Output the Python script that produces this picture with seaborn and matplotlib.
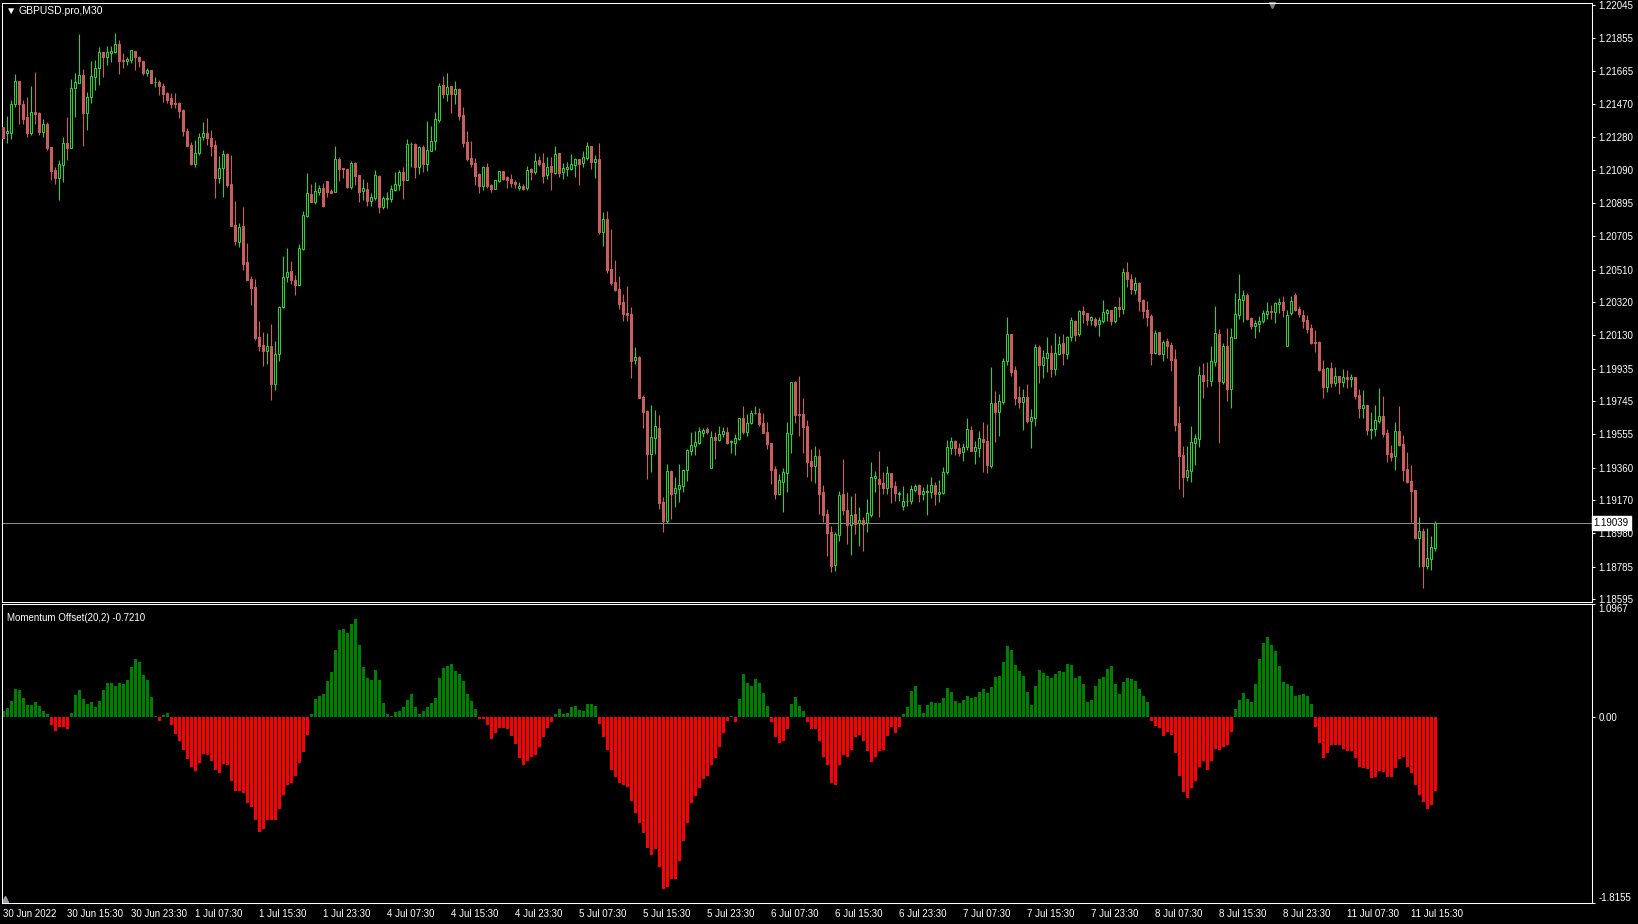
import numpy as np
import pandas as pd
import seaborn as sns
import matplotlib.pyplot as plt

symbol = "GBPUSD.pro,M30"
indicator = "Momentum Offset(20,2)"

# M30 candles, 30 Jun 07:30 .. 11 Jul 16:30
opens = [
    1.21336, 1.21305, 1.21305, 1.21469, 1.21605, 1.21469, 1.21398, 1.21301, 1.21423, 1.21417,
    1.21308, 1.21353, 1.21221, 1.21088, 1.21039, 1.21119, 1.21243, 1.21217, 1.21566, 1.21595,
    1.21640, 1.21421, 1.21510, 1.21630, 1.21678, 1.21775, 1.21746, 1.21769, 1.21773, 1.21819,
    1.21725, 1.21723, 1.21727, 1.21779, 1.21742, 1.21721, 1.21653, 1.21669, 1.21599, 1.21601,
    1.21576, 1.21533, 1.21508, 1.21475, 1.21475, 1.21436, 1.21316, 1.21233, 1.21123, 1.21188,
    1.21277, 1.21301, 1.21272, 1.21233, 1.21043, 1.21097, 1.21181, 1.21006, 1.20768, 1.20672,
    1.20763, 1.20556, 1.20455, 1.20409, 1.20118, 1.20072, 1.20037, 1.20066, 1.19845, 1.20020,
    1.20291, 1.20465, 1.20502, 1.20449, 1.20422, 1.20629, 1.20823, 1.20949, 1.20904, 1.20962,
    1.20984, 1.21024, 1.20966, 1.20962, 1.21152, 1.21100, 1.21094, 1.20989, 1.21129, 1.21059,
    1.20966, 1.20978, 1.20908, 1.20926, 1.21053, 1.20873, 1.20922, 1.20922, 1.20972, 1.21003,
    1.21077, 1.21030, 1.21237, 1.21239, 1.21108, 1.21222, 1.21125, 1.21201, 1.21259, 1.21379,
    1.21582, 1.21531, 1.21576, 1.21531, 1.21559, 1.21408, 1.21251, 1.21158, 1.21129, 1.21067,
    1.20997, 1.21106, 1.21001, 1.20978, 1.21026, 1.21082, 1.21046, 1.21036, 1.21019, 1.20984,
    1.20995, 1.20984, 1.21094, 1.21077, 1.21146, 1.21129, 1.21059, 1.21111, 1.21071, 1.21187,
    1.21077, 1.21094, 1.21094, 1.21117, 1.21152, 1.21127, 1.21160, 1.21228, 1.21135, 1.21152,
    1.20728, 1.20804, 1.20513, 1.20438, 1.20397, 1.20322, 1.20258, 1.20252, 1.19985, 1.20002,
    1.19770, 1.19689, 1.19439, 1.19532, 1.19590, 1.19160, 1.19050, 1.19340, 1.19212, 1.19236,
    1.19253, 1.19346, 1.19456, 1.19485, 1.19503, 1.19561, 1.19584, 1.19358, 1.19538, 1.19520,
    1.19557, 1.19567, 1.19509, 1.19503, 1.19526, 1.19648, 1.19567, 1.19617, 1.19675, 1.19677,
    1.19619, 1.19567, 1.19503, 1.19352, 1.19207, 1.19277, 1.19329, 1.19555, 1.19857, 1.19671,
    1.19671, 1.19602, 1.19398, 1.19369, 1.19428, 1.19218, 1.19091, 1.18986, 1.18795, 1.18969,
    1.19207, 1.19114, 1.19027, 1.19091, 1.19038, 1.19056, 1.19037, 1.19085, 1.19302, 1.19294,
    1.19271, 1.19242, 1.19329, 1.19253, 1.19207, 1.19137, 1.19164, 1.19166, 1.19230, 1.19259,
    1.19207, 1.19218, 1.19218, 1.19259, 1.19207, 1.19213, 1.19335, 1.19474, 1.19515, 1.19474,
    1.19451, 1.19480, 1.19578, 1.19456, 1.19473, 1.19525, 1.19514, 1.19369, 1.19735, 1.19682,
    1.19740, 1.19978, 1.20135, 1.19926, 1.19769, 1.19740, 1.19769, 1.19630, 1.19647, 1.20060,
    1.19955, 1.19996, 1.20025, 1.19932, 1.20019, 1.20083, 1.20021, 1.20118, 1.20211, 1.20135,
    1.20269, 1.20257, 1.20216, 1.20222, 1.20193, 1.20213, 1.20259, 1.20275, 1.20211, 1.20292,
    1.20280, 1.20495, 1.20455, 1.20391, 1.20431, 1.20333, 1.20275, 1.20240, 1.20025, 1.20147,
    1.20019, 1.20095, 1.20071, 1.19990, 1.19618, 1.19432, 1.19305, 1.19340, 1.19502, 1.19525,
    1.19897, 1.19868, 1.19864, 1.19975, 1.20135, 1.19858, 1.20066, 1.19816, 1.20114, 1.20246,
    1.20335, 1.20362, 1.20228, 1.20182, 1.20193, 1.20211, 1.20253, 1.20269, 1.20263, 1.20311,
    1.20321, 1.20068, 1.20259, 1.20362, 1.20280, 1.20246, 1.20217, 1.20170, 1.20089, 1.20089,
    1.19932, 1.19827, 1.19938, 1.19851, 1.19891, 1.19857, 1.19886, 1.19874, 1.19886, 1.19781,
    1.19705, 1.19723, 1.19578, 1.19584, 1.19630, 1.19659, 1.19560, 1.19444, 1.19427, 1.19572,
    1.19496, 1.19351, 1.19282, 1.19229, 1.18951, 1.18991, 1.18788, 1.18829, 1.18893,
]
highs = [
    1.21340, 1.21401, 1.21494, 1.21645, 1.21605, 1.21494, 1.21514, 1.21576, 1.21657, 1.21423,
    1.21384, 1.21368, 1.21221, 1.21107, 1.21146, 1.21277, 1.21398, 1.21614, 1.21649, 1.21878,
    1.21674, 1.21543, 1.21723, 1.21727, 1.21802, 1.21775, 1.21810, 1.21810, 1.21883, 1.21843,
    1.21769, 1.21742, 1.21785, 1.21779, 1.21750, 1.21721, 1.21680, 1.21669, 1.21626, 1.21610,
    1.21591, 1.21543, 1.21537, 1.21533, 1.21485, 1.21444, 1.21334, 1.21252, 1.21262, 1.21301,
    1.21368, 1.21388, 1.21320, 1.21262, 1.21169, 1.21204, 1.21185, 1.21175, 1.20908, 1.20782,
    1.20875, 1.20666, 1.20473, 1.20455, 1.20211, 1.20147, 1.20140, 1.20194, 1.20095, 1.20298,
    1.20589, 1.20635, 1.20560, 1.20478, 1.20658, 1.20850, 1.21071, 1.21007, 1.21019, 1.21001,
    1.21013, 1.21024, 1.20976, 1.21228, 1.21164, 1.21100, 1.21094, 1.21140, 1.21135, 1.21059,
    1.21036, 1.21019, 1.20955, 1.21088, 1.21059, 1.20937, 1.20960, 1.21001, 1.21077, 1.21088,
    1.21106, 1.21268, 1.21251, 1.21245, 1.21228, 1.21233, 1.21373, 1.21344, 1.21425, 1.21593,
    1.21634, 1.21651, 1.21576, 1.21605, 1.21564, 1.21454, 1.21315, 1.21257, 1.21158, 1.21071,
    1.21112, 1.21129, 1.21007, 1.21030, 1.21082, 1.21082, 1.21051, 1.21065, 1.21030, 1.21019,
    1.21007, 1.21111, 1.21100, 1.21187, 1.21170, 1.21187, 1.21164, 1.21164, 1.21228, 1.21187,
    1.21129, 1.21135, 1.21181, 1.21158, 1.21152, 1.21199, 1.21251, 1.21228, 1.21175, 1.21245,
    1.20844, 1.20850, 1.20746, 1.20566, 1.20473, 1.20368, 1.20415, 1.20293, 1.20060, 1.20008,
    1.19782, 1.19695, 1.19724, 1.19695, 1.19665, 1.19189, 1.19381, 1.19346, 1.19305, 1.19381,
    1.19352, 1.19468, 1.19567, 1.19573, 1.19596, 1.19590, 1.19596, 1.19573, 1.19567, 1.19602,
    1.19596, 1.19596, 1.19520, 1.19555, 1.19648, 1.19718, 1.19671, 1.19695, 1.19718, 1.19706,
    1.19677, 1.19625, 1.19503, 1.19369, 1.19323, 1.19358, 1.19625, 1.19857, 1.19863, 1.19892,
    1.19764, 1.19637, 1.19468, 1.19485, 1.19468, 1.19259, 1.19120, 1.19021, 1.18986, 1.19224,
    1.19410, 1.19218, 1.19195, 1.19213, 1.19131, 1.19073, 1.19178, 1.19393, 1.19340, 1.19457,
    1.19335, 1.19369, 1.19329, 1.19282, 1.19224, 1.19253, 1.19213, 1.19259, 1.19265, 1.19265,
    1.19247, 1.19265, 1.19306, 1.19277, 1.19288, 1.19364, 1.19520, 1.19538, 1.19520, 1.19503,
    1.19503, 1.19648, 1.19601, 1.19514, 1.19572, 1.19624, 1.19613, 1.19944, 1.19804, 1.19787,
    1.19996, 1.20234, 1.20135, 1.19949, 1.19833, 1.19816, 1.19845, 1.19700, 1.20077, 1.20071,
    1.20042, 1.20118, 1.20071, 1.20141, 1.20124, 1.20135, 1.20124, 1.20234, 1.20216, 1.20275,
    1.20298, 1.20257, 1.20240, 1.20234, 1.20234, 1.20333, 1.20280, 1.20275, 1.20298, 1.20350,
    1.20518, 1.20553, 1.20484, 1.20466, 1.20437, 1.20338, 1.20327, 1.20251, 1.20158, 1.20147,
    1.20100, 1.20112, 1.20089, 1.20048, 1.19717, 1.19485, 1.19485, 1.19601, 1.19554, 1.19950,
    1.19967, 1.19973, 1.20066, 1.20298, 1.20164, 1.20083, 1.20170, 1.20170, 1.20373, 1.20484,
    1.20391, 1.20373, 1.20234, 1.20217, 1.20240, 1.20275, 1.20321, 1.20304, 1.20321, 1.20344,
    1.20356, 1.20275, 1.20356, 1.20371, 1.20298, 1.20275, 1.20246, 1.20193, 1.20159, 1.20095,
    1.19984, 1.19944, 1.19973, 1.19944, 1.19891, 1.19932, 1.19926, 1.19903, 1.19886, 1.19816,
    1.19810, 1.19723, 1.19682, 1.19723, 1.19822, 1.19775, 1.19584, 1.19491, 1.19624, 1.19717,
    1.19549, 1.19450, 1.19375, 1.19229, 1.19073, 1.19009, 1.19009, 1.18962, 1.19049,
]
lows = [
    1.21272, 1.21243, 1.21266, 1.21456, 1.21355, 1.21355, 1.21281, 1.21291, 1.21355, 1.21291,
    1.21281, 1.21204, 1.21030, 1.21006, 1.20914, 1.21020, 1.21146, 1.21214, 1.21398, 1.21591,
    1.21229, 1.21320, 1.21475, 1.21552, 1.21581, 1.21630, 1.21698, 1.21717, 1.21765, 1.21645,
    1.21678, 1.21698, 1.21707, 1.21669, 1.21688, 1.21640, 1.21634, 1.21591, 1.21572, 1.21523,
    1.21485, 1.21475, 1.21446, 1.21446, 1.21392, 1.21285, 1.21229, 1.21117, 1.21107, 1.21175,
    1.21262, 1.21233, 1.21169, 1.20927, 1.21010, 1.20929, 1.20991, 1.20763, 1.20650, 1.20640,
    1.20507, 1.20449, 1.20304, 1.20101, 1.20039, 1.19950, 1.19962, 1.19753, 1.19811, 1.19979,
    1.20285, 1.20440, 1.20426, 1.20362, 1.20420, 1.20624, 1.20817, 1.20904, 1.20891, 1.20943,
    1.20875, 1.20933, 1.20953, 1.20962, 1.21026, 1.21042, 1.20984, 1.20978, 1.21001, 1.20902,
    1.20914, 1.20879, 1.20879, 1.20914, 1.20839, 1.20862, 1.20868, 1.20902, 1.20966, 1.20972,
    1.20920, 1.21030, 1.21106, 1.21042, 1.21065, 1.21077, 1.21082, 1.21201, 1.21204, 1.21367,
    1.21506, 1.21489, 1.21419, 1.21471, 1.21379, 1.21222, 1.21142, 1.21108, 1.21001, 1.20957,
    1.20972, 1.20984, 1.20960, 1.20978, 1.21019, 1.21030, 1.20984, 1.20990, 1.20984, 1.20972,
    1.20972, 1.20972, 1.21030, 1.21065, 1.21111, 1.21013, 1.21036, 1.20972, 1.21065, 1.21048,
    1.21036, 1.21053, 1.21088, 1.21048, 1.21001, 1.21106, 1.21146, 1.21094, 1.21042, 1.20717,
    1.20647, 1.20490, 1.20420, 1.20386, 1.20281, 1.20211, 1.20211, 1.19880, 1.19962, 1.19764,
    1.19590, 1.19294, 1.19334, 1.19439, 1.19119, 1.18986, 1.19038, 1.19062, 1.19131, 1.19160,
    1.19218, 1.19282, 1.19433, 1.19433, 1.19497, 1.19538, 1.19555, 1.19358, 1.19410, 1.19514,
    1.19538, 1.19497, 1.19445, 1.19433, 1.19520, 1.19555, 1.19544, 1.19613, 1.19671, 1.19602,
    1.19561, 1.19468, 1.19265, 1.19178, 1.19201, 1.19102, 1.19218, 1.19445, 1.19619, 1.19544,
    1.19445, 1.19306, 1.19282, 1.19271, 1.19091, 1.19044, 1.18847, 1.18754, 1.18760, 1.18934,
    1.19085, 1.18916, 1.18853, 1.18975, 1.18905, 1.18876, 1.18986, 1.19073, 1.19218, 1.19073,
    1.19207, 1.19207, 1.19155, 1.19166, 1.19166, 1.19114, 1.19137, 1.19149, 1.19218, 1.19160,
    1.19172, 1.19085, 1.19184, 1.19143, 1.19160, 1.19207, 1.19323, 1.19439, 1.19433, 1.19428,
    1.19398, 1.19462, 1.19456, 1.19380, 1.19421, 1.19334, 1.19328, 1.19357, 1.19508, 1.19543,
    1.19729, 1.19955, 1.19891, 1.19723, 1.19705, 1.19578, 1.19618, 1.19473, 1.19601, 1.19851,
    1.19880, 1.19915, 1.19885, 1.19897, 1.20013, 1.19955, 1.19990, 1.20095, 1.20095, 1.20124,
    1.20199, 1.20188, 1.20188, 1.20176, 1.20124, 1.20199, 1.20211, 1.20188, 1.20199, 1.20234,
    1.20251, 1.20408, 1.20367, 1.20367, 1.20269, 1.20228, 1.20182, 1.19955, 1.20019, 1.20013,
    1.19978, 1.19996, 1.19920, 1.19572, 1.19235, 1.19189, 1.19282, 1.19276, 1.19374, 1.19479,
    1.19764, 1.19827, 1.19833, 1.19949, 1.19502, 1.19845, 1.19746, 1.19706, 1.20112, 1.20222,
    1.20205, 1.20217, 1.20164, 1.20112, 1.20147, 1.20199, 1.20222, 1.20222, 1.20199, 1.20257,
    1.20234, 1.20066, 1.20246, 1.20271, 1.20234, 1.20170, 1.20141, 1.20077, 1.20031, 1.19920,
    1.19764, 1.19798, 1.19827, 1.19833, 1.19787, 1.19827, 1.19822, 1.19827, 1.19758, 1.19647,
    1.19647, 1.19549, 1.19526, 1.19543, 1.19618, 1.19537, 1.19392, 1.19398, 1.19345, 1.19485,
    1.19282, 1.19270, 1.19044, 1.18945, 1.18782, 1.18660, 1.18771, 1.18765, 1.18875,
]
closes = [
    1.21272, 1.21314, 1.21471, 1.21605, 1.21469, 1.21384, 1.21301, 1.21423, 1.21413, 1.21308,
    1.21353, 1.21217, 1.21084, 1.21039, 1.21123, 1.21243, 1.21217, 1.21562, 1.21597, 1.21640,
    1.21421, 1.21510, 1.21632, 1.21678, 1.21771, 1.21746, 1.21771, 1.21777, 1.21819, 1.21723,
    1.21723, 1.21730, 1.21783, 1.21742, 1.21721, 1.21653, 1.21669, 1.21595, 1.21601, 1.21576,
    1.21529, 1.21494, 1.21473, 1.21473, 1.21432, 1.21316, 1.21229, 1.21123, 1.21188, 1.21277,
    1.21301, 1.21272, 1.21229, 1.21043, 1.21097, 1.21181, 1.21001, 1.20763, 1.20675, 1.20759,
    1.20542, 1.20449, 1.20403, 1.20111, 1.20066, 1.20037, 1.20066, 1.19845, 1.20020, 1.20293,
    1.20467, 1.20496, 1.20449, 1.20420, 1.20635, 1.20827, 1.20955, 1.20904, 1.20966, 1.20984,
    1.20879, 1.20962, 1.20957, 1.21152, 1.21094, 1.21092, 1.20989, 1.21129, 1.21053, 1.20960,
    1.20984, 1.20908, 1.20931, 1.21059, 1.20873, 1.20926, 1.20926, 1.20978, 1.21007, 1.21077,
    1.21030, 1.21239, 1.21239, 1.21106, 1.21222, 1.21125, 1.21204, 1.21257, 1.21384, 1.21576,
    1.21531, 1.21570, 1.21531, 1.21559, 1.21404, 1.21247, 1.21152, 1.21123, 1.21055, 1.20997,
    1.21106, 1.20997, 1.20978, 1.21030, 1.21082, 1.21036, 1.21030, 1.21013, 1.21007, 1.20995,
    1.20978, 1.21088, 1.21077, 1.21140, 1.21123, 1.21055, 1.21106, 1.21077, 1.21181, 1.21073,
    1.21100, 1.21106, 1.21123, 1.21152, 1.21123, 1.21164, 1.21228, 1.21135, 1.21152, 1.20728,
    1.20804, 1.20508, 1.20432, 1.20391, 1.20310, 1.20252, 1.20246, 1.19979, 1.20002, 1.19764,
    1.19683, 1.19439, 1.19538, 1.19602, 1.19154, 1.19050, 1.19340, 1.19207, 1.19242, 1.19259,
    1.19346, 1.19462, 1.19491, 1.19509, 1.19573, 1.19578, 1.19567, 1.19538, 1.19520, 1.19555,
    1.19573, 1.19501, 1.19515, 1.19532, 1.19648, 1.19567, 1.19619, 1.19677, 1.19677, 1.19613,
    1.19561, 1.19497, 1.19346, 1.19207, 1.19288, 1.19335, 1.19561, 1.19857, 1.19666, 1.19666,
    1.19596, 1.19393, 1.19369, 1.19428, 1.19207, 1.19085, 1.18980, 1.18789, 1.18975, 1.19201,
    1.19114, 1.19027, 1.19085, 1.19033, 1.19056, 1.19033, 1.19097, 1.19306, 1.19311, 1.19265,
    1.19242, 1.19329, 1.19247, 1.19213, 1.19213, 1.19166, 1.19166, 1.19236, 1.19253, 1.19207,
    1.19224, 1.19224, 1.19259, 1.19207, 1.19218, 1.19335, 1.19480, 1.19515, 1.19472, 1.19445,
    1.19480, 1.19584, 1.19456, 1.19479, 1.19531, 1.19508, 1.19374, 1.19735, 1.19682, 1.19746,
    1.19978, 1.20135, 1.19915, 1.19764, 1.19740, 1.19769, 1.19630, 1.19653, 1.20060, 1.19955,
    1.20002, 1.20025, 1.19932, 1.20025, 1.20077, 1.20025, 1.20118, 1.20216, 1.20129, 1.20269,
    1.20251, 1.20216, 1.20234, 1.20188, 1.20216, 1.20263, 1.20275, 1.20211, 1.20292, 1.20280,
    1.20495, 1.20455, 1.20397, 1.20431, 1.20327, 1.20269, 1.20234, 1.20025, 1.20141, 1.20019,
    1.20089, 1.20066, 1.19984, 1.19607, 1.19427, 1.19305, 1.19345, 1.19508, 1.19531, 1.19897,
    1.19862, 1.19866, 1.19979, 1.20141, 1.19864, 1.20066, 1.19816, 1.20118, 1.20251, 1.20339,
    1.20362, 1.20222, 1.20182, 1.20199, 1.20211, 1.20257, 1.20269, 1.20263, 1.20315, 1.20321,
    1.20275, 1.20246, 1.20327, 1.20275, 1.20251, 1.20211, 1.20164, 1.20083, 1.20081, 1.19926,
    1.19827, 1.19938, 1.19851, 1.19891, 1.19857, 1.19886, 1.19874, 1.19886, 1.19775, 1.19705,
    1.19723, 1.19578, 1.19584, 1.19636, 1.19659, 1.19555, 1.19438, 1.19421, 1.19572, 1.19491,
    1.19345, 1.19276, 1.19224, 1.18951, 1.18991, 1.18788, 1.18834, 1.18898, 1.19039,
]

momentum = [
    0.052, 0.091, 0.159, 0.273, 0.263, 0.185, 0.117, 0.117, 0.146, 0.107,
    0.058, 0.029, -0.078, -0.143, -0.097, -0.097, -0.123, 0.036, 0.214, 0.263,
    0.175, 0.127, 0.146, 0.097, 0.159, 0.263, 0.331, 0.331, 0.302, 0.331,
    0.321, 0.360, 0.487, 0.565, 0.536, 0.409, 0.360, 0.195, 0.010, -0.039,
    0.019, 0.039, -0.078, -0.166, -0.234, -0.321, -0.409, -0.494, -0.532, -0.455,
    -0.367, -0.370, -0.429, -0.523, -0.552, -0.464, -0.474, -0.623, -0.727, -0.727,
    -0.747, -0.844, -0.877, -1.003, -1.127, -1.097, -1.010, -1.010, -1.010, -0.896,
    -0.760, -0.669, -0.649, -0.581, -0.455, -0.347, -0.175, 0.029, 0.175, 0.205,
    0.224, 0.351, 0.438, 0.653, 0.847, 0.857, 0.818, 0.906, 0.955, 0.701,
    0.487, 0.380, 0.360, 0.458, 0.360, 0.136, 0.029, 0.010, 0.049, 0.058,
    0.097, 0.166, 0.224, 0.097, 0.029, 0.058, 0.097, 0.136, 0.185, 0.380,
    0.477, 0.497, 0.516, 0.448, 0.419, 0.351, 0.224, 0.156, 0.078, -0.019,
    -0.019, -0.078, -0.214, -0.156, -0.107, -0.107, -0.117, -0.185, -0.263, -0.399,
    -0.474, -0.435, -0.390, -0.370, -0.292, -0.201, -0.107, -0.049, 0.029, 0.078,
    0.029, 0.039, 0.097, 0.107, 0.068, 0.058, 0.127, 0.127, 0.107, -0.068,
    -0.195, -0.321, -0.516, -0.584, -0.643, -0.669, -0.688, -0.818, -0.942, -1.032,
    -1.130, -1.276, -1.344, -1.292, -1.461, -1.682, -1.656, -1.578, -1.584, -1.403,
    -1.214, -1.039, -0.838, -0.769, -0.692, -0.604, -0.575, -0.474, -0.399, -0.299,
    -0.153, -0.039, 0.010, -0.049, 0.175, 0.419, 0.331, 0.302, 0.370, 0.331,
    0.234, 0.107, -0.049, -0.195, -0.253, -0.234, -0.117, 0.127, 0.195, 0.107,
    0.058, -0.049, -0.117, -0.117, -0.234, -0.390, -0.474, -0.643, -0.669, -0.474,
    -0.370, -0.390, -0.321, -0.195, -0.175, -0.234, -0.331, -0.438, -0.390, -0.331,
    -0.321, -0.185, -0.097, -0.156, -0.097, 0.029, 0.097, 0.253, 0.302, 0.117,
    0.039, 0.117, 0.146, 0.136, 0.136, 0.185, 0.282, 0.244, 0.156, 0.136,
    0.166, 0.205, 0.185, 0.195, 0.244, 0.273, 0.234, 0.292, 0.390, 0.399,
    0.536, 0.692, 0.653, 0.506, 0.448, 0.399, 0.244, 0.117, 0.302, 0.458,
    0.429, 0.399, 0.380, 0.419, 0.448, 0.438, 0.516, 0.506, 0.380, 0.399,
    0.321, 0.146, 0.166, 0.302, 0.370, 0.390, 0.468, 0.497, 0.321, 0.224,
    0.341, 0.380, 0.370, 0.351, 0.273, 0.205, 0.146, -0.039, -0.088, -0.107,
    -0.185, -0.146, -0.175, -0.351, -0.575, -0.731, -0.789, -0.692, -0.623, -0.487,
    -0.429, -0.516, -0.429, -0.312, -0.321, -0.292, -0.273, -0.146, 0.078, 0.166,
    0.234, 0.175, 0.146, 0.321, 0.565, 0.721, 0.779, 0.701, 0.643, 0.497,
    0.341, 0.321, 0.302, 0.205, 0.214, 0.224, 0.205, 0.127, -0.097, -0.253,
    -0.399, -0.351, -0.279, -0.279, -0.279, -0.312, -0.331, -0.331, -0.399, -0.487,
    -0.497, -0.506, -0.594, -0.584, -0.526, -0.536, -0.584, -0.584, -0.497, -0.409,
    -0.390, -0.487, -0.545, -0.662, -0.760, -0.828, -0.896, -0.857, -0.721,
]

time_labels = [
    "30 Jun 2022", "30 Jun 15:30", "30 Jun 23:30", "1 Jul 07:30", "1 Jul 15:30",
    "1 Jul 23:30", "4 Jul 07:30", "4 Jul 15:30", "4 Jul 23:30", "5 Jul 07:30",
    "5 Jul 15:30", "5 Jul 23:30", "6 Jul 07:30", "6 Jul 15:30", "6 Jul 23:30",
    "7 Jul 07:30", "7 Jul 15:30", "7 Jul 23:30", "8 Jul 07:30", "8 Jul 15:30",
    "8 Jul 23:30", "11 Jul 07:30", "11 Jul 15:30",
]
bars_per_label = 16

price_ticks = [
    1.22045, 1.21855, 1.21665, 1.21470, 1.21280, 1.21090, 1.20895, 1.20705, 1.20510, 1.20320,
    1.20130, 1.19935, 1.19745, 1.19555, 1.19360, 1.19170, 1.18980, 1.18785, 1.18595,
]
momentum_ticks = [1.0967, 0.0, -1.8155]

# ---- style: MetaTrader black chart
sns.set_theme(style="dark", rc={
    "figure.facecolor": "black", "axes.facecolor": "black",
    "axes.edgecolor": "white", "axes.linewidth": 0.75,
    "xtick.color": "white", "ytick.color": "white", "text.color": "white",
    "axes.grid": False,
})
plt.rcParams["font.family"] = ["Liberation Sans", "DejaVu Sans"]

up_col = "#32CD32"
down_col = "#CD5C5C"

o = np.array(opens)
h = np.array(highs)
l = np.array(lows)
c = np.array(closes)
n = len(c)
x = np.arange(n)
up = c >= o

W, H = 1638, 924
fig = plt.figure(figsize=(W / 100, H / 100), dpi=100)
left, right = 2.3, 1592
ax1 = fig.add_axes([left / W, 1 - 602 / H, (right - left) / W, (602 - 3.3) / H])
ax2 = fig.add_axes([left / W, 1 - 903 / H, (right - left) / W, (903 - 604) / H])

# ---- candles
ax1.vlines(x[up], l[up], h[up], color=up_col, lw=0.8, zorder=2)
ax1.vlines(x[~up], l[~up], h[~up], color=down_col, lw=0.8, zorder=2)
ax1.bar(x[up], c[up] - o[up], bottom=o[up], width=0.5, facecolor="black",
        edgecolor=up_col, linewidth=0.75, zorder=3)
ax1.bar(x[~up], c[~up] - o[~up], bottom=o[~up], width=0.5, facecolor=down_col,
        edgecolor=down_col, linewidth=0.75, zorder=3)

last = closes[-1]
ax1.axhline(last, color="#8c8c8c", lw=0.75, zorder=1)
ax1.text(1.001, last, f"{last:.5f}", transform=ax1.get_yaxis_transform(),
         ha="left", va="center", fontsize=7, color="black",
         bbox=dict(boxstyle="square,pad=0.2", fc="white", ec="white"), zorder=5, clip_on=False)

xmin, xmax = -0.25, 397.2
ax1.set_xlim(xmin, xmax)
ax1.set_ylim(1.18579, 1.22056)
ax1.set_xticks([])
ax1.yaxis.tick_right()
ax1.set_yticks(price_ticks, [f"{p:.5f}" for p in price_ticks])
ax1.tick_params(axis="y", direction="out", length=2.5, width=0.75, labelsize=7, pad=2,
                colors="white")

ax1.text(0.0025, 0.987, "\u25BC", transform=ax1.transAxes, fontsize=7.5,
         ha="left", va="center", color="white")
ax1.text(0.0102, 0.987, symbol, transform=ax1.transAxes, fontsize=7.5,
         ha="left", va="center", color="white")
ax1.plot(0.7987, 0.997, marker="v", ms=5, color="#808080", transform=ax1.transAxes,
         clip_on=False)

# ---- momentum histogram
df = pd.DataFrame({"bar": x, "momentum": momentum})
df["sign"] = np.where(df["momentum"] >= 0, "up", "down")
sns.barplot(data=df, x="bar", y="momentum", hue="sign", native_scale=True,
            palette={"up": "#008000", "down": "#FF0000"}, dodge=False, width=0.75,
            errorbar=None, saturation=1, linewidth=0, legend=False, ax=ax2)

ax2.set_xlim(xmin, xmax)
ax2.set_ylim(-1.8160, 1.1006)
ax2.set_xlabel("")
ax2.set_ylabel("")
ax2.yaxis.tick_right()
ax2.set_yticks(momentum_ticks, ["1.0967", "0.00", "-1.8155"])
ylabels = ax2.get_yticklabels()
ylabels[0].set_va("top")
ylabels[-1].set_va("bottom")
ax2.tick_params(axis="y", direction="out", length=2.5, width=0.75, labelsize=7, pad=2,
                colors="white")
ticks = np.arange(len(time_labels)) * bars_per_label
ax2.set_xticks(ticks, time_labels, ha="left")
ax2.tick_params(axis="x", direction="out", length=3, width=0.75, labelsize=7, pad=1.5,
                colors="white")
ax2.text(0.003, 0.97, f"{indicator} {momentum[-1]:.4f}", transform=ax2.transAxes,
         fontsize=7, ha="left", va="top", color="white")
# small scroll marker in the lower left corner
ax2.plot(0.002, 0.015, marker="^", ms=4, color="#9aa0aa", transform=ax2.transAxes,
         clip_on=False)

for ax in (ax1, ax2):
    for s in ax.spines.values():
        s.set_color("white")
        s.set_linewidth(0.75)

fig.savefig("out.png", dpi=100, facecolor="black")
